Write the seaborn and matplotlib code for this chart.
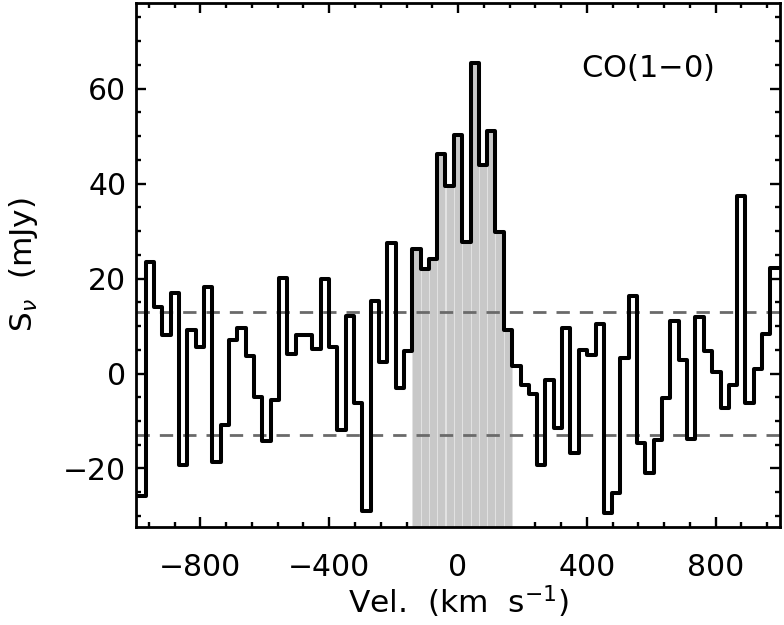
import numpy as np
import pandas as pd
import seaborn as sns
import matplotlib
matplotlib.use('Agg')
import matplotlib.pyplot as plt
from matplotlib.ticker import MultipleLocator, AutoMinorLocator

# --- DATA ---
# channel centres (km/s)
vel = np.array([
    -983, -957, -931, -905, -879, -853, -828, -802, -776, -750,
    -724, -698, -672, -646, -621, -595, -569, -543, -517, -491,
    -465, -440, -414, -388, -362, -336, -310, -284, -259, -233,
    -207, -181, -155, -129, -103, -78, -52, -26, 0, 26,
    52, 78, 103, 129, 155, 181, 207, 233, 259, 284,
    310, 336, 362, 388, 414, 440, 465, 491, 517, 543,
    569, 595, 621, 646, 672, 698, 724, 750, 776, 802,
    828, 853, 879, 905, 931, 957, 983,
])
# flux density (mJy)
flux = np.array([
    -25.9, 23.5, 14.0, 8.1, 16.9, -19.3, 9.1, 5.5, 18.3, -18.6,
    -10.9, 7.0, 9.5, 3.7, -4.9, -14.2, -5.6, 20.2, 4.2, 8.2,
    8.2, 5.1, 20.0, 5.5, -11.8, 12.1, -6.3, -28.9, 15.2, 2.5,
    27.4, -3.1, 4.8, 26.2, 22.0, 24.1, 46.3, 39.5, 50.3, 27.6,
    65.3, 43.9, 51.0, 29.7, 9.2, 1.6, -2.4, -4.3, -19.2, -1.3,
    -11.4, 9.5, -16.7, 4.9, 3.8, 10.5, -29.3, -25.1, 3.3, 16.4,
    -14.7, -21.0, -13.9, -5.2, 11.0, 2.8, -13.7, 11.9, 4.8, 0.4,
    -7.3, -2.4, 37.4, -6.3, 0.9, 8.3, 22.3,
])
# line window (channel indices, inclusive)
LINE_CHANNELS = (33, 44)
RMS = 13.0
LABEL = 'CO(1$-$0)'

XLIM = (-1000, 1000)
YLIM = (-32.3, 78.0)

# --- STYLE ---
sns.set_style('ticks')
plt.rcParams['font.family'] = ['DejaVu Sans']
plt.rcParams['mathtext.fontset'] = 'dejavusans'
plt.rcParams['text.color'] = 'black'
plt.rcParams['axes.labelcolor'] = 'black'
plt.rcParams['xtick.color'] = 'black'
plt.rcParams['ytick.color'] = 'black'

fig = plt.figure(figsize=(7.84, 6.25), dpi=100)
ax = fig.add_axes([0.1735, 0.157, 0.8215, 0.838])

# bin edges from the channel centres
w = np.mean(np.diff(vel))
edges = np.r_[vel[0] - w / 2, (vel[:-1] + vel[1:]) / 2, vel[-1] + w / 2]
step_df = pd.DataFrame({'v': edges, 'S': np.append(flux, flux[-1])})

# shaded line channels
lo, hi = LINE_CHANNELS
sel = slice(lo, hi + 1)
ax.bar(vel[sel], flux[sel] - YLIM[0], bottom=YLIM[0], width=w,
       color='#c8c8c8', edgecolor='#e2e2e2', linewidth=0.7, zorder=1)

# +-1 sigma
for lvl in (RMS, -RMS):
    ax.axhline(lvl, color='#6a6a6a', linewidth=2.0, dashes=(4.8, 3.6), zorder=2)

sns.lineplot(data=step_df, x='v', y='S', drawstyle='steps-post', sort=False,
             estimator=None, color='black', linewidth=2.9, legend=False, ax=ax, zorder=3)

ax.set_xlim(*XLIM)
ax.set_ylim(*YLIM)

ax.xaxis.set_major_locator(MultipleLocator(400))
ax.xaxis.set_minor_locator(AutoMinorLocator(5))
ax.yaxis.set_major_locator(MultipleLocator(20))
ax.yaxis.set_minor_locator(AutoMinorLocator(4))
ax.tick_params(which='both', direction='in', top=True, right=True, width=1.7, color='black')
ax.tick_params(which='major', length=7.5)
ax.tick_params(which='minor', length=3.8)
ax.tick_params(axis='x', which='major', labelsize=21.5, pad=19)
ax.tick_params(axis='y', which='major', labelsize=21.5, pad=7)
for sp in ax.spines.values():
    sp.set_linewidth(2.0)
    sp.set_color('black')

ax.set_xlabel('Vel.  (km  s$^{-1}$)', fontsize=22.5, labelpad=1)
ax.set_ylabel(r'S$_\nu$  (mJy)', fontsize=22.5, labelpad=17)

ax.text(587, 62.4, LABEL, fontsize=22, ha='center', va='baseline')

fig.savefig('out.png', dpi=100)
